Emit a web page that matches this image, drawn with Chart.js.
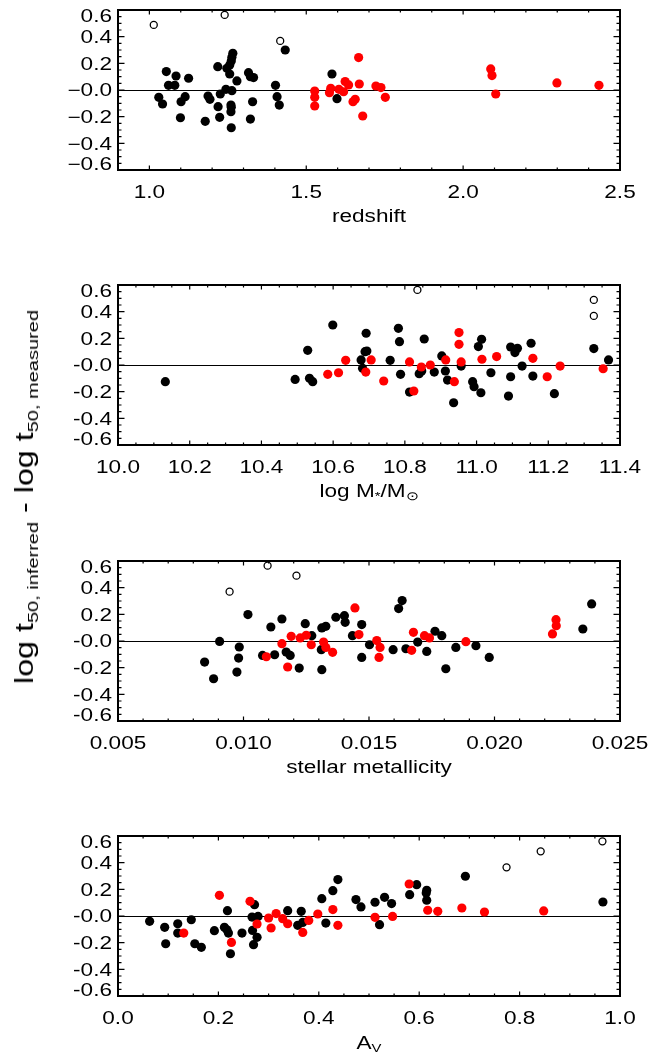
<!DOCTYPE html>
<html>
<head>
<meta charset="utf-8">
<script src="https://cdn.jsdelivr.net/npm/chart.js@4.4.0/dist/chart.umd.min.js"></script>
<style>
body { margin: 0; background: #fff; }
#page { position: relative; width: 651px; height: 1055px; overflow: hidden; font-family: "Liberation Sans", Arial, sans-serif; color: #000; }
canvas { position: absolute; left: 0; }
.xt { position: absolute; left: 118px; width: 502px; text-align: center; font-size: 17.5px; line-height: 20px; transform: scaleX(1.29); white-space: nowrap; }
.xt sub { font-size: 11.5px; vertical-align: -3px; }
#ytitle { position: absolute; left: -226px; top: 482px; width: 500px; height: 30px; line-height: 30px; text-align: center; font-size: 25px; white-space: nowrap; transform: rotate(-90deg) scaleX(1.29); }
#ytitle sub { font-size: 15.5px; vertical-align: -5px; }
</style>
</head>
<body>
<div id="page">
  <canvas id="c0" width="651" height="229" style="top:0px"></canvas>
  <canvas id="c1" width="651" height="229" style="top:275px"></canvas>
  <canvas id="c2" width="651" height="229" style="top:551px"></canvas>
  <canvas id="c3" width="651" height="229" style="top:826px"></canvas>
  <div class="xt" style="top:206px">redshift</div>
  <div class="xt" style="top:481px">log M<sub>*</sub>/M<sub>⊙</sub></div>
  <div class="xt" style="top:757px">stellar metallicity</div>
  <div class="xt" style="top:1033px">A<sub>V</sub></div>
  <div id="ytitle">log t<sub>50, inferred</sub> - log t<sub>50, measured</sub></div>
</div>
<script>
// values: [x, log t50 inferred - log t50 measured]
const redshiftBlack = [[1.433,0.300],[1.054,0.138],[1.030,-0.055],[1.042,-0.105],[1.061,0.035],[1.081,0.035],[1.085,0.105],[1.125,0.088],[1.101,-0.088],[1.114,-0.050],[1.099,-0.208],[1.178,-0.235],[1.187,-0.045],[1.193,-0.070],[1.218,0.175],[1.219,-0.125],[1.224,-0.205],[1.226,-0.030],[1.244,0.005],[1.247,0.163],[1.256,0.188],[1.261,0.218],[1.266,0.275],[1.263,0.245],[1.256,0.120],[1.263,-0.005],[1.260,-0.113],[1.261,-0.130],[1.260,-0.163],[1.261,-0.283],[1.279,0.068],[1.316,0.130],[1.322,0.100],[1.332,0.093],[1.329,-0.088],[1.322,-0.218],[1.402,0.035],[1.407,-0.050],[1.414,-0.113],[1.582,0.120],[1.598,-0.065]];
const redshiftRed = [[1.527,-0.008],[1.527,-0.055],[1.527,-0.120],[1.574,-0.020],[1.578,0.013],[1.604,0.005],[1.619,-0.013],[1.624,0.063],[1.635,0.038],[1.667,0.243],[1.669,0.045],[1.649,-0.088],[1.656,-0.070],[1.680,-0.195],[1.722,0.030],[1.738,0.018],[1.752,-0.055],[2.088,0.158],[2.092,0.108],[2.104,-0.030],[2.299,0.053],[2.433,0.035]];
const redshiftOpen = [[1.014,0.488],[1.240,0.563],[1.417,0.368]];

const massBlack = [[10.132,-0.125],[10.494,-0.108],[10.529,0.110],[10.534,-0.100],[10.543,-0.125],[10.599,0.300],[10.678,0.038],[10.682,-0.025],[10.689,0.100],[10.692,0.238],[10.694,0.105],[10.759,0.035],[10.782,0.275],[10.785,0.175],[10.788,-0.070],[10.813,-0.203],[10.840,-0.065],[10.847,-0.045],[10.854,0.195],[10.882,-0.053],[10.903,0.068],[10.913,-0.045],[10.919,-0.113],[10.936,-0.283],[10.957,-0.008],[10.989,-0.125],[10.993,-0.163],[11.005,0.138],[11.014,0.193],[11.012,-0.208],[11.040,-0.058],[11.089,-0.233],[11.095,-0.088],[11.095,0.135],[11.107,0.093],[11.114,0.125],[11.127,-0.008],[11.152,0.163],[11.157,-0.083],[11.217,-0.215],[11.327,0.123],[11.368,0.038]];
const massRed = [[10.585,-0.070],[10.615,-0.058],[10.635,0.035],[10.691,-0.053],[10.706,0.038],[10.741,-0.120],[10.813,0.023],[10.825,-0.195],[10.846,-0.015],[10.871,0.000],[10.914,0.038],[10.938,-0.125],[10.951,0.243],[10.951,0.155],[10.957,0.023],[11.015,0.043],[11.056,0.063],[11.157,0.050],[11.197,-0.088],[11.233,-0.008],[11.353,-0.028]];
const massOpen = [[10.835,0.563],[11.327,0.488],[11.327,0.368]];

const metalBlack = [[0.008451,-0.158],[0.008809,-0.283],[0.009048,-0.003],[0.009738,-0.233],[0.009831,-0.045],[0.009805,-0.128],[0.010176,0.198],[0.01076,-0.108],[0.01109,0.105],[0.01124,-0.103],[0.01153,0.165],[0.0117,-0.083],[0.01186,-0.108],[0.01222,-0.203],[0.01246,0.130],[0.01272,0.040],[0.0131,-0.065],[0.01312,-0.215],[0.01312,0.098],[0.01328,0.110],[0.01368,0.178],[0.01402,0.190],[0.01405,0.140],[0.01434,0.040],[0.01471,0.123],[0.01471,-0.123],[0.01502,-0.028],[0.01596,-0.065],[0.01618,0.243],[0.01632,0.303],[0.01647,-0.058],[0.01694,-0.008],[0.0173,-0.078],[0.01763,0.073],[0.0179,0.040],[0.01806,-0.208],[0.01846,-0.048],[0.01926,-0.035],[0.01979,-0.123],[0.02352,0.090],[0.02387,0.278]];
const metalRed = [[0.01091,-0.118],[0.01153,-0.020],[0.0119,0.035],[0.01176,-0.195],[0.01226,0.023],[0.0125,0.043],[0.0127,-0.028],[0.01319,-0.008],[0.01328,-0.048],[0.01355,-0.085],[0.01444,0.248],[0.0146,0.048],[0.01531,0.003],[0.01544,-0.048],[0.0154,-0.123],[0.0167,-0.070],[0.01677,0.065],[0.01721,0.040],[0.01741,0.023],[0.01886,-0.005],[0.02231,0.053],[0.02246,0.115],[0.02245,0.160]];
const metalOpen = [[0.009446,0.370],[0.01096,0.565],[0.01211,0.490]];

const avBlack = [[0.063,-0.040],[0.093,-0.085],[0.095,-0.208],[0.119,-0.058],[0.119,-0.128],[0.146,-0.028],[0.153,-0.208],[0.166,-0.235],[0.192,-0.110],[0.212,-0.085],[0.218,0.040],[0.217,-0.103],[0.220,-0.128],[0.224,-0.283],[0.247,-0.128],[0.267,-0.008],[0.268,-0.108],[0.272,0.085],[0.270,-0.215],[0.277,-0.160],[0.279,-0.003],[0.338,0.040],[0.358,-0.070],[0.365,0.035],[0.368,-0.048],[0.406,0.130],[0.414,-0.053],[0.428,0.190],[0.438,0.273],[0.474,0.123],[0.484,0.068],[0.512,0.103],[0.521,-0.065],[0.531,0.140],[0.545,0.093],[0.581,0.160],[0.595,0.235],[0.615,0.193],[0.615,0.118],[0.614,0.173],[0.692,0.298],[0.966,0.105]];
const avRed = [[0.131,-0.128],[0.202,0.155],[0.226,-0.198],[0.263,0.110],[0.277,-0.060],[0.300,-0.015],[0.305,-0.090],[0.315,0.018],[0.328,-0.020],[0.338,-0.058],[0.368,-0.123],[0.380,-0.033],[0.398,0.015],[0.428,0.048],[0.438,-0.070],[0.512,-0.010],[0.547,-0.003],[0.580,0.240],[0.617,0.043],[0.637,0.035],[0.685,0.060],[0.730,0.030],[0.848,0.038]];
const avOpen = [[0.774,0.365],[0.842,0.485],[0.965,0.560]];

// tick labels
const yTickValues = [0.6, 0.4, 0.2, 0, -0.2, -0.4, -0.6];
const yTickLabels = ['0.6', '0.4', '0.2', '-0.0', '-0.2', '-0.4', '-0.6'];
const redshiftTicks = [1.0, 1.5, 2.0, 2.5];
const redshiftTickLabels = ['1.0', '1.5', '2.0', '2.5'];
const massTicks = [10.0, 10.2, 10.4, 10.6, 10.8, 11.0, 11.2, 11.4];
const massTickLabels = ['10.0', '10.2', '10.4', '10.6', '10.8', '11.0', '11.2', '11.4'];
const metalTicks = [0.005, 0.010, 0.015, 0.020, 0.025];
const metalTickLabels = ['0.005', '0.010', '0.015', '0.020', '0.025'];
const avTicks = [0.0, 0.2, 0.4, 0.6, 0.8, 1.0];
const avTickLabels = ['0.0', '0.2', '0.4', '0.6', '0.8', '1.0'];

const STRETCH = 1.29;

const panels = [
  { id: 'c0', black: redshiftBlack, red: redshiftRed, open: redshiftOpen, xMin: 0.9, xMax: 2.5, xMinor: 0.1,
    xTicks: redshiftTicks, xLabels: redshiftTickLabels, yLabels: yTickLabels.map(s => s.replace('-', '\u2212')) },
  { id: 'c1', black: massBlack, red: massRed, open: massOpen, xMin: 10.0, xMax: 11.4, xMinor: 0.05,
    xTicks: massTicks, xLabels: massTickLabels, yLabels: yTickLabels },
  { id: 'c2', black: metalBlack, red: metalRed, open: metalOpen, xMin: 0.005, xMax: 0.025, xMinor: 0.001,
    xTicks: metalTicks, xLabels: metalTickLabels, yLabels: yTickLabels },
  { id: 'c3', black: avBlack, red: avRed, open: avOpen, xMin: 0.0, xMax: 1.0, xMinor: 0.05,
    xTicks: avTicks, xLabels: avTickLabels, yLabels: yTickLabels }
];

function stepValues(min, max, step) {
  const out = [];
  const k0 = Math.round(min / step), k1 = Math.round(max / step);
  for (let k = k0; k <= k1; k++) out.push(+(k * step).toFixed(8));
  return out;
}

function isOn(v, list) {
  return list.some(t => Math.abs(t - v) < 1e-9);
}

function stretchedText(ctx, text, x, y, align) {
  ctx.save();
  ctx.translate(x, y);
  ctx.scale(STRETCH, 1);
  ctx.textAlign = align;
  ctx.fillText(text, 0, 0);
  ctx.restore();
}

// zero line, under the points
const zeroLine = {
  id: 'zeroLine',
  beforeDatasetsDraw(chart) {
    const { ctx, chartArea: a } = chart;
    const py = Math.round(chart.scales.y.getPixelForValue(0)) + 0.5;
    ctx.save();
    ctx.strokeStyle = '#000';
    ctx.lineWidth = 1;
    ctx.beginPath();
    ctx.moveTo(a.left, py);
    ctx.lineTo(a.right, py);
    ctx.stroke();
    ctx.restore();
  }
};

// frame, inward ticks and tick labels, IDL style
const idlAxes = {
  id: 'idlAxes',
  afterDraw(chart, args, opts) {
    const p = opts.panel;
    const { ctx, chartArea: a } = chart;
    const xs = chart.scales.x, ys = chart.scales.y;
    ctx.save();
    ctx.strokeStyle = '#000';
    ctx.lineWidth = 1.2;
    ctx.beginPath();
    stepValues(p.xMin, p.xMax, p.xMinor).forEach(v => {
      const px = xs.getPixelForValue(v);
      const len = isOn(v, p.xTicks) ? 4.5 : 2.5;
      ctx.moveTo(px, a.bottom); ctx.lineTo(px, a.bottom - len);
      ctx.moveTo(px, a.top); ctx.lineTo(px, a.top + len);
    });
    stepValues(-0.6, 0.6, 0.05).forEach(v => {
      const py = ys.getPixelForValue(v);
      const len = isOn(v, yTickValues) ? 6.5 : 3.5;
      ctx.moveTo(a.left, py); ctx.lineTo(a.left + len, py);
      ctx.moveTo(a.right, py); ctx.lineTo(a.right - len, py);
    });
    ctx.stroke();
    ctx.lineWidth = 2;
    ctx.strokeRect(a.left, a.top, a.right - a.left, a.bottom - a.top);

    ctx.fillStyle = '#000';
    ctx.font = '17.5px "Liberation Sans", Arial, sans-serif';
    ctx.textBaseline = 'alphabetic';
    yTickValues.forEach((v, i) => {
      let py = ys.getPixelForValue(v);
      if (v === 0.6) py += 6;
      if (v === -0.6) py -= 6.5;
      stretchedText(ctx, p.yLabels[i], a.left - 6, py + 6.3, 'right');
    });
    p.xTicks.forEach((v, i) => {
      stretchedText(ctx, p.xLabels[i], xs.getPixelForValue(v), a.bottom + 28, 'center');
    });
    ctx.restore();
  }
};

function toPoints(list) {
  return list.map(d => ({ x: d[0], y: d[1] }));
}

panels.forEach(p => {
  new Chart(document.getElementById(p.id).getContext('2d'), {
    type: 'scatter',
    data: {
      datasets: [
        {
          data: toPoints(p.black),
          backgroundColor: '#000',
          borderWidth: 0,
          pointRadius: 4.6,
          order: 3
        },
        {
          data: toPoints(p.red),
          backgroundColor: '#ff0000',
          borderWidth: 0,
          pointRadius: 4.6,
          order: 2
        },
        {
          data: toPoints(p.open),
          backgroundColor: 'rgba(0,0,0,0)',
          borderColor: '#000',
          borderWidth: 1.3,
          pointRadius: 3.5,
          order: 1
        }
      ]
    },
    options: {
      responsive: false,
      animation: false,
      events: [],
      layout: { padding: { left: 118, right: 31, top: 10, bottom: 59 } },
      scales: {
        x: { type: 'linear', display: false, min: p.xMin, max: p.xMax },
        y: { type: 'linear', display: false, min: -0.6, max: 0.6 }
      },
      plugins: {
        legend: { display: false },
        tooltip: { enabled: false },
        idlAxes: { panel: p }
      }
    },
    plugins: [zeroLine, idlAxes]
  });
});
</script>
</body>
</html>
